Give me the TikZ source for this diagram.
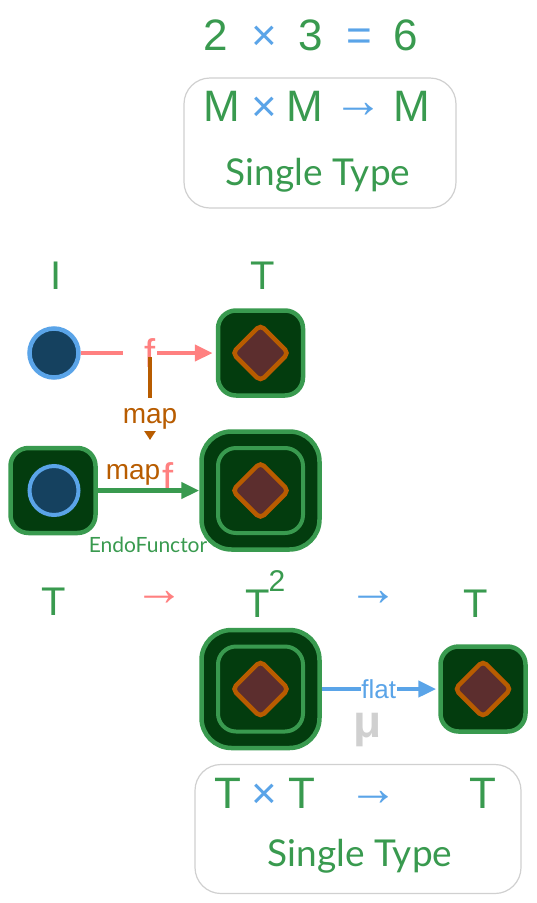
\documentclass[tikz,border=0pt]{standalone}
\usepackage{fontspec}
\setmainfont{Liberation Sans}
\newfontfamily\handfont{Lato}
\usetikzlibrary{arrows.meta,calc,positioning,shapes.geometric}
\definecolor{leaf}{HTML}{399A4F}
\definecolor{forest}{HTML}{033C0E}
\definecolor{sky}{HTML}{5AA4E8}
\definecolor{navy}{HTML}{15415F}
\definecolor{wine}{HTML}{5C2E2E}
\definecolor{rust}{HTML}{B85C00}
\definecolor{salmon}{HTML}{FF8080}
\definecolor{ash}{HTML}{D0D0D0}

\begin{document}
\begin{tikzpicture}[
		x=1pt, y=-1pt,
		big/.style={anchor=base, inner sep=0pt, text=leaf, font=\fontsize{44}{48}\selectfont},
		mid/.style={big, font=\fontsize{40}{44}\selectfont},
		op/.style={big, text=sky},
		arrowsign/.style={op, font=\fontsize{50}{54}\selectfont},
		hand/.style={anchor=base, inner sep=0pt, text=leaf, font=\handfont\fontsize{37}{40}\selectfont},
		label/.style={anchor=base, inner sep=0pt, font=\fontsize{28}{30}\selectfont},
		panel/.style={draw=ash, line width=1.2pt, rounded corners=26pt, fill=white},
		wrap/.style={rectangle, draw=leaf, line width=4.5pt, fill=forest, rounded corners=18pt, minimum size=85pt, inner sep=0pt},
		bigwrap/.style={wrap, rounded corners=30pt, minimum size=118pt},
		value/.style={circle, draw=sky, line width=4.5pt, fill=navy, minimum size=49pt, inner sep=0pt},
		gem/.style={diamond, draw=rust, line width=4.5pt, fill=wine, rounded corners=5pt, minimum size=58pt, inner sep=0pt},
		>={Triangle[length=18pt,width=16pt]}
		]
	\useasboundingbox (0,0) rectangle (536,903);

	% --- top line ---
	\node[big] (two) at (216,50) {2};
	\node[op] (times) at (264,50) {×};
	\node[big] (three) at (311,50) {3};
	\node[op] (equals) at (359,50) {=};
	\node[big] (six) at (406,50) {6};

	% --- monoid box ---
	\node[panel, minimum width=272pt, minimum height=130pt] (boxM) at (320,143) {};
	\node[big] (m1) at (222,121) {M};
	\node[op] (times2) at (264,121) {×};
	\node[big] (m2) at (305,121) {M};
	\node[arrowsign] (arr1) at (358,117) {→};
	\node[big] (m3) at (412,121) {M};
	\node[hand] (single1) at (318,185) {Single Type};

	% --- first row ---
	\node[mid] (labI) at (56,289) {I};
	\node[mid] (labT) at (263,289) {T};
	\node[value] (val) at (54,353) {};
	\node[wrap] (tval) at (260.5,353) {};
	\node[gem] (gem1) at (260.5,353) {};
	\draw[->, salmon, line width=4.5pt, shorten >=3pt] (val) -- node[pos=0.44, fill=white, text=salmon, inner xsep=2pt, inner ysep=0pt, text width=30pt, align=right, minimum height=34pt, font=\fontsize{40}{42}\selectfont] (f1) {f} (tval);

	% map
	\coordinate (mapstart) at (150,357);
	\coordinate (mapend) at (150,440);
	\draw[-{Triangle[length=9pt,width=11pt]}, rust, line width=4.5pt] (mapstart) -- (mapend);
	\node[anchor=base, fill=white, text=rust, inner sep=0pt, minimum width=56pt, text height=25pt, text depth=8pt, font=\fontsize{28}{30}\selectfont] (map1) at (150,423) {map};

	% --- second row ---
	\node[wrap] (tval2) at (53,490.5) {};
	\node[value, line width=4pt] (val2) at (54,490.5) {};
	\node[bigwrap] (ttval) at (260.5,490.5) {};
	\node[wrap, line width=4pt] (inner1) at (260.5,490.5) {};
	\node[gem] (gem2) at (260.5,490.5) {};
	\node[label, text=rust] (map2) at (133,479) {map};
	\node[label, text=salmon, font=\fontsize{40}{42}\selectfont] (f2) at (168,491) {f};
	\draw[->, leaf, line width=4.5pt] (tval2) -- (ttval);
	\node[hand, font=\handfont\fontsize{21}{23}\selectfont] (endo) at (148,552) {EndoFunctor};

	% --- third row ---
	\node[mid] (t1) at (54,615) {T};
	\node[arrowsign, text=salmon] (arr2) at (159,605) {→};
	\node[mid] (t2) at (258,617) {T};
	\node[label, text=leaf, font=\fontsize{30}{32}\selectfont] (sq) at (277,591) {2};
	\node[arrowsign] (arr3) at (373,605) {→};
	\node[mid] (t3) at (476,617) {T};

	\node[bigwrap] (ttval2) at (260.5,689) {};
	\node[wrap, line width=4pt] (inner2) at (260.5,689) {};
	\node[gem] (gem3) at (260.5,689) {};
	\node[wrap] (tval3) at (483,689) {};
	\node[gem] (gem4) at (483,689) {};
	\draw[->, sky, line width=4.5pt, shorten >=2pt] (ttval2) -- node[pos=0.49, fill=white, text=sky, inner sep=0.5pt, font=\fontsize{26}{28}\selectfont] (flat) {flat} (tval3);
	\node[anchor=base, inner sep=0pt, text=ash, font=\bfseries\fontsize{46}{50}\selectfont] (mu) at (368,737) {μ};

	% --- box du bas ---
	\node[panel, minimum width=326pt, minimum height=129pt] (boxT) at (358,829) {};
	\node[big] (t4) at (228,808) {T};
	\node[op] (times3) at (264,808) {×};
	\node[big] (t5) at (302,808) {T};
	\node[arrowsign] (arr4) at (373,805) {→};
	\node[big] (t6) at (483,808) {T};
	\node[hand] (single2) at (360,866) {Single Type};

\end{tikzpicture}
\end{document}
